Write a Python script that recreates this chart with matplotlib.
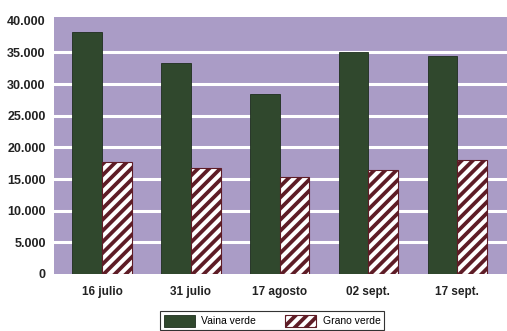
import matplotlib
matplotlib.use("Agg")
import matplotlib.pyplot as plt
from matplotlib import font_manager
from matplotlib.ticker import FuncFormatter
import numpy as np

categories = ["16 julio", "31 julio", "17 agosto", "02 sept.", "17 sept."]
vaina_verde = [38300, 33300, 28500, 35100, 34500]
grano_verde = [17700, 16800, 15300, 16400, 18000]
y_ticks = [0, 5000, 10000, 15000, 20000, 25000, 30000, 35000, 40000]

names = {f.name for f in font_manager.fontManager.ttflist}
fam = "Liberation Sans" if "Liberation Sans" in names else "DejaVu Sans"
plt.rcParams["font.family"] = [fam, "DejaVu Sans"]

bg = "#aa9cc6"
green = "#30482d"
maroon = "#5e1c26"
plt.rcParams["hatch.linewidth"] = 2.7
plt.rcParams["hatch.color"] = maroon

fig = plt.figure(figsize=(5.07, 3.31), dpi=100)
ax = fig.add_axes([54/507, 1-274/331, 1-54/507, (274-17)/331])
ax.set_facecolor(bg)

x = np.arange(len(categories))
w = 0.335
ax.bar(x - w/2, vaina_verde, w, color=green, edgecolor="#1e2e1e", linewidth=0.6,
       label="Vaina verde", zorder=3)
ax.bar(x + w/2, grano_verde, w, color="white", edgecolor=maroon, hatch="///",
       linewidth=0.8, label="Grano verde", zorder=3)

ax.set_xlim(-0.54, 4.56)
ax.set_ylim(0, 40600)
ax.set_yticks(y_ticks)
ax.yaxis.set_major_formatter(FuncFormatter(lambda v, p: "0" if v == 0 else f"{int(v):,}".replace(",", ".")))
for t in y_ticks[1:-1]:
    ax.axhline(t, color="white", linewidth=2.2, zorder=1)
ax.set_xticks(x)
ax.set_xticklabels(categories)
ax.tick_params(axis="both", length=0, colors="#222222")
ax.tick_params(axis="y", pad=6, labelsize=9)
ax.tick_params(axis="x", pad=9, labelsize=8.5)
for lab in ax.get_xticklabels() + ax.get_yticklabels():
    lab.set_fontweight("bold")
for s in ax.spines.values():
    s.set_visible(False)

leg = fig.legend(loc="upper left", bbox_to_anchor=(160/507, 1-311/331), ncol=2,
                 frameon=True, fancybox=False, edgecolor="#333333", framealpha=1,
                 prop={"size": 7.5}, handlelength=3.0, handleheight=1.4, handletextpad=0.6,
                 columnspacing=2.8, borderpad=0.35, borderaxespad=0)
leg.get_frame().set_linewidth(0.8)

fig.savefig("out.png", dpi=100)
